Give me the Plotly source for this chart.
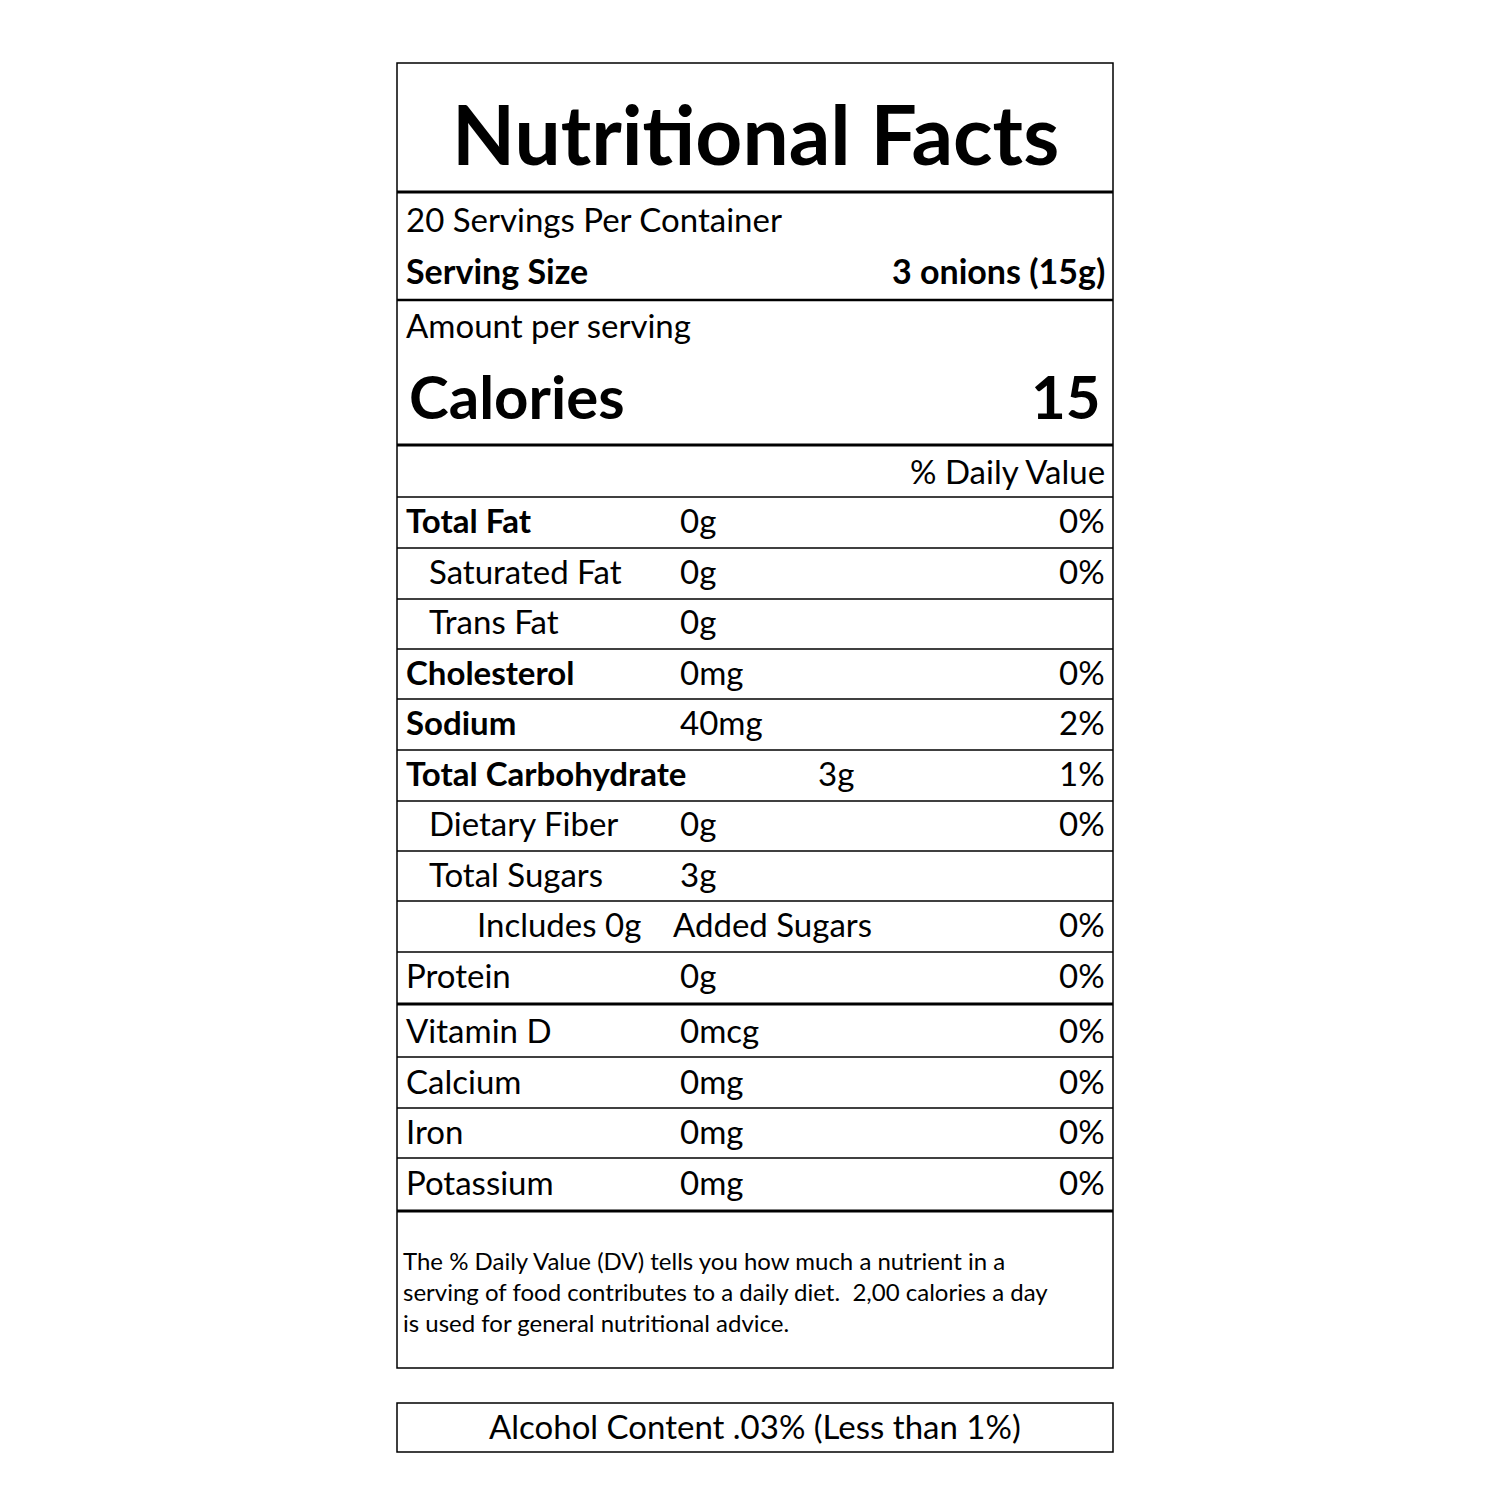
import plotly.graph_objects as go

title = "Nutritional Facts"
servings = "20 Servings Per Container"
serving_size = "3 onions (15g)"
calories = "15"
names = ["Total Fat", "Saturated Fat", "Trans Fat", "Cholesterol", "Sodium",
         "Total Carbohydrate", "Dietary Fiber", "Total Sugars", "Includes 0g",
         "Protein", "Vitamin D", "Calcium", "Iron", "Potassium"]
amounts = ["0g", "0g", "0g", "0mg", "40mg", "3g", "0g", "3g", "Added Sugars",
           "0g", "0mcg", "0mg", "0mg", "0mg"]
dvs = ["0%", "0%", "", "0%", "2%", "1%", "0%", "", "0%", "0%", "0%", "0%", "0%", "0%"]
bold = [True, False, False, True, True, True, False, False, False, False, False, False, False, False]
indent = [0, 1, 1, 0, 0, 0, 1, 1, 2, 0, 0, 0, 0, 0]
row_centers = [512, 563, 613, 664, 714, 765, 815, 866, 916, 967, 1022, 1073, 1123, 1174]
row_lines = [489, 540, 591, 641, 691, 742, 793, 843, 893, 944, 996, 1049, 1100, 1150, 1203]
thick_lines = {996: 3, 1203: 3}
footnote = ("The % Daily Value (DV) tells you how much a nutrient in a<br>"
            "serving of food contributes to a daily diet.  2,00 calories a day<br>"
            "is used for general nutritional advice.")
alcohol = "Alcohol Content .03% (Less than 1%)"

F = "Lato"
L, R = 389, 1105
fig = go.Figure()
shapes = []
def hline(y, w):
    shapes.append(dict(type="line", x0=L, x1=R, y0=y, y1=y, line=dict(color="black", width=w)))
shapes.append(dict(type="rect", x0=L, x1=R, y0=55, y1=1360, line=dict(color="black", width=1.5)))
shapes.append(dict(type="rect", x0=L, x1=R, y0=1395, y1=1444, line=dict(color="black", width=1.5)))
hline(184, 3); hline(292, 2.5); hline(437, 3)
for y in row_lines:
    hline(y, thick_lines.get(y, 1.5))

ann = []
def txt(x, y, t, size, anchor="left", b=False):
    if b:
        t = "<b>" + t + "</b>"
    ann.append(dict(x=x, y=y, text=t, showarrow=False, xanchor=anchor, yanchor="middle",
                    font=dict(family=F, size=size, color="black")))
txt(747, 125, title, 82, "center", True)
txt(396, 211, servings, 33)
txt(396, 262, "Serving Size", 34, b=True)
txt(1099, 262, serving_size, 34, "right", True)
txt(396, 317, "Amount per serving", 33)
txt(399, 388, "Calories", 60, b=True)
txt(1095, 388, calories, 60, "right", True)
txt(1099, 463, "% Daily Value", 33, "right")
ind_x = [396, 419, 467]
for i, n in enumerate(names):
    y = row_centers[i]
    txt(ind_x[indent[i]], y, n, 33, b=bold[i])
    ax = 808 if n == "Total Carbohydrate" else (663 if indent[i] == 2 else 670)
    txt(ax, y, amounts[i], 33)
    if dvs[i]:
        txt(1099, y, dvs[i], 33, "right")
ann.append(dict(x=393, y=1283, text=footnote, showarrow=False, xanchor="left", yanchor="middle",
                align="left", font=dict(family=F, size=24, color="black")))
txt(747, 1418, alcohol, 33, "center")

fig.update_layout(width=1500, height=1500, margin=dict(l=0, r=0, t=0, b=0),
                  paper_bgcolor="white", plot_bgcolor="white", shapes=shapes, annotations=ann,
                  xaxis=dict(range=[0, 1500], visible=False),
                  yaxis=dict(range=[1500, 0], visible=False), showlegend=False)
fig.write_html("out.html")
